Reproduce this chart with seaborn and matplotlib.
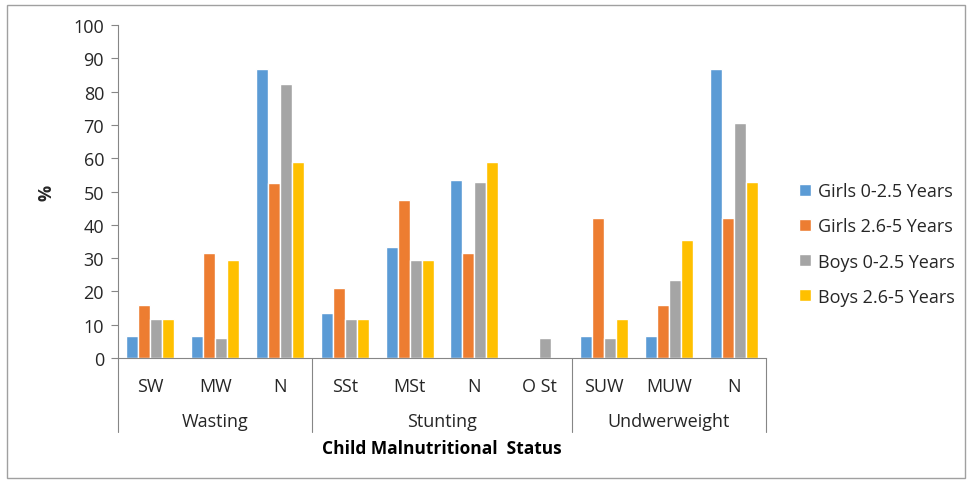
import numpy as np
import pandas as pd
import matplotlib
matplotlib.use("Agg")
import matplotlib.pyplot as plt
import matplotlib.transforms as mtransforms
import seaborn as sns

# data
groups = ["Wasting", "Stunting", "Undwerweight"]
group_sizes = [3, 4, 3]
categories = ["SW", "MW", "N", "SSt", "MSt", "N", "O St", "SUW", "MUW", "N"]
series = ["Girls 0-2.5 Years", "Girls 2.6-5 Years", "Boys 0-2.5 Years", "Boys 2.6-5 Years"]
girls_young = [6.7, 6.7, 86.7, 13.4, 33.3, 53.4, 0, 6.7, 6.7, 86.7]
girls_old = [15.9, 31.6, 52.6, 21.1, 47.3, 31.6, 0, 42.0, 15.9, 42.0]
boys_young = [11.7, 5.9, 82.3, 11.7, 29.4, 52.8, 5.9, 5.9, 23.5, 70.5]
boys_old = [11.7, 29.4, 58.9, 11.7, 29.4, 58.9, 0, 11.7, 35.5, 52.8]
colors = ["#5B9BD5", "#ED7D31", "#A5A5A5", "#FFC000"]

sns.set_style("white")
plt.rcParams["font.family"] = ["Open Sans", "DejaVu Sans"]

# unique keys since "N" repeats
keys = [f"{i}_{c}" for i, c in enumerate(categories)]
rows = []
for s, vals in zip(series, [girls_young, girls_old, boys_young, boys_old]):
    for k, v in zip(keys, vals):
        rows.append({"cat": k, "series": s, "value": v})
df = pd.DataFrame(rows)

fig = plt.figure(figsize=(9.68, 4.81), dpi=100)
ax = fig.add_axes([118 / 968, 1 - 359 / 481, (766 - 118) / 968, (359 - 26) / 481])

sns.barplot(data=df, x="cat", y="value", hue="series", order=keys,
            hue_order=series, palette=colors, width=0.74, gap=0,
            saturation=1, ax=ax, legend=True)

edge = "#868686"
fs = 13
ax.set_ylim(0, 100)
ax.set_yticks(np.arange(0, 101, 10))
ax.set_xlim(-0.5, len(keys) - 0.5)
ax.set_xticks(range(len(keys)))
ax.set_xticklabels(categories)
ax.tick_params(axis="x", length=0, pad=14, labelsize=fs, colors="#262626")
ax.tick_params(axis="y", length=5, width=0.8, color=edge, direction="out",
               left=True, labelsize=fs, labelcolor="#262626", pad=5)
for sp in ["top", "right"]:
    ax.spines[sp].set_visible(False)
for sp in ["left", "bottom"]:
    ax.spines[sp].set_color(edge)
    ax.spines[sp].set_linewidth(0.8)

ax.set_ylabel("%", fontsize=13, fontweight="bold", labelpad=13)
ax.set_xlabel("")

# group separators and group labels
trans = mtransforms.blended_transform_factory(ax.transData, ax.transAxes)
bounds = np.concatenate([[0], np.cumsum(group_sizes)]) - 0.5
for b in bounds:
    ax.plot([b, b], [0, -0.222], color=edge, lw=0.8, transform=trans, clip_on=False)
for g, lo, hi in zip(groups, bounds[:-1], bounds[1:]):
    ax.text((lo + hi) / 2, -0.19, g, transform=trans, ha="center", va="center",
            fontsize=fs, color="#262626")
ax.text(0.5, -0.27, "Child Malnutritional  Status", transform=ax.transAxes,
        ha="center", va="center", fontsize=12.5, fontweight="bold", color="black")

leg = ax.legend(loc="center left", bbox_to_anchor=(783 / 968, 1 - 245 / 481),
                bbox_transform=fig.transFigure, frameon=False, fontsize=fs,
                handlelength=0.65, handleheight=0.65, labelspacing=0.95,
                handletextpad=0.4)
for t in leg.get_texts():
    t.set_color("#262626")

# outer chart border
fig.patches.append(plt.Rectangle((7 / 968, 2 / 481), 958 / 968, 473 / 481,
                                 transform=fig.transFigure, fill=False,
                                 edgecolor="#A0A0A0", lw=1))

fig.savefig("out.png", dpi=100)
